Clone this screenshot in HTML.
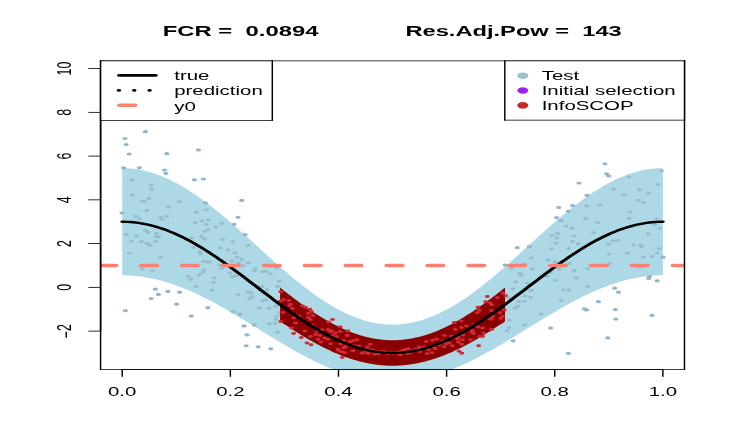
<!DOCTYPE html>
<html><head><meta charset="utf-8"><title>plot</title>
<style>html,body{margin:0;padding:0;background:#fff;overflow:hidden}svg{display:block}#w{width:736px;height:445px;will-change:transform}text{font-family:"Liberation Sans",sans-serif;fill:#000;white-space:pre}</style></head><body><div id="w">
<svg width="736" height="445" viewBox="0 0 432 432" preserveAspectRatio="none">
<rect x="0" y="0" width="432" height="432" fill="#fff"/>
<defs><clipPath id="pc"><rect x="59.04" y="59.04" width="342.72" height="299.52"/></clipPath></defs>
<g clip-path="url(#pc)">
<path d="M71.73 163.22 L73.32 163.26 L74.91 163.37 L76.49 163.56 L78.08 163.82 L79.67 164.15 L81.25 164.56 L82.84 165.05 L84.43 165.60 L86.01 166.23 L87.60 166.94 L89.19 167.71 L90.77 168.55 L92.36 169.46 L93.95 170.44 L95.53 171.49 L97.12 172.61 L98.71 173.79 L100.29 175.04 L101.88 176.35 L103.47 177.72 L105.05 179.15 L106.64 180.64 L108.23 182.19 L109.81 183.80 L111.40 185.46 L112.99 187.17 L114.57 188.93 L116.16 190.75 L117.75 192.61 L119.33 194.51 L120.92 196.47 L122.51 198.46 L124.09 200.49 L125.68 202.56 L127.27 204.67 L128.85 206.81 L130.44 208.99 L132.03 211.19 L133.61 213.42 L135.20 215.68 L136.79 217.96 L138.37 220.26 L139.96 222.58 L141.55 224.91 L143.13 227.26 L144.72 229.62 L146.31 231.99 L147.89 234.37 L149.48 236.75 L151.07 239.14 L152.65 241.52 L154.24 243.91 L155.83 246.28 L157.41 248.65 L159.00 251.01 L160.59 253.36 L162.17 255.70 L163.76 258.02 L165.35 260.32 L166.93 262.60 L168.52 264.85 L170.11 267.09 L171.69 269.29 L173.28 271.46 L174.87 273.60 L176.45 275.71 L178.04 277.78 L179.63 279.82 L181.21 281.81 L182.80 283.76 L184.39 285.67 L185.97 287.53 L187.56 289.34 L189.15 291.11 L190.73 292.82 L192.32 294.48 L193.91 296.09 L195.49 297.63 L197.08 299.13 L198.67 300.56 L200.25 301.93 L201.84 303.24 L203.43 304.48 L205.01 305.67 L206.60 306.78 L208.19 307.83 L209.77 308.81 L211.36 309.73 L212.95 310.57 L214.53 311.34 L216.12 312.04 L217.71 312.67 L219.29 313.23 L220.88 313.71 L222.47 314.12 L224.05 314.46 L225.64 314.72 L227.23 314.91 L228.81 315.02 L230.40 315.06 L231.99 315.02 L233.57 314.91 L235.16 314.72 L236.75 314.46 L238.33 314.12 L239.92 313.71 L241.51 313.23 L243.09 312.67 L244.68 312.04 L246.27 311.34 L247.85 310.57 L249.44 309.73 L251.03 308.81 L252.61 307.83 L254.20 306.78 L255.79 305.67 L257.37 304.48 L258.96 303.24 L260.55 301.93 L262.13 300.56 L263.72 299.13 L265.31 297.63 L266.89 296.09 L268.48 294.48 L270.07 292.82 L271.65 291.11 L273.24 289.34 L274.83 287.53 L276.41 285.67 L278.00 283.76 L279.59 281.81 L281.17 279.82 L282.76 277.78 L284.35 275.71 L285.93 273.60 L287.52 271.46 L289.11 269.29 L290.69 267.09 L292.28 264.85 L293.87 262.60 L295.45 260.32 L297.04 258.02 L298.63 255.70 L300.21 253.36 L301.80 251.01 L303.39 248.65 L304.97 246.28 L306.56 243.91 L308.15 241.52 L309.73 239.14 L311.32 236.75 L312.91 234.37 L314.49 231.99 L316.08 229.62 L317.67 227.26 L319.25 224.91 L320.84 222.58 L322.43 220.26 L324.01 217.96 L325.60 215.68 L327.19 213.42 L328.77 211.19 L330.36 208.99 L331.95 206.81 L333.53 204.67 L335.12 202.56 L336.71 200.49 L338.29 198.46 L339.88 196.47 L341.47 194.51 L343.05 192.61 L344.64 190.75 L346.23 188.93 L347.81 187.17 L349.40 185.46 L350.99 183.80 L352.57 182.19 L354.16 180.64 L355.75 179.15 L357.33 177.72 L358.92 176.35 L360.51 175.04 L362.09 173.79 L363.68 172.61 L365.27 171.49 L366.85 170.44 L368.44 169.46 L370.03 168.55 L371.61 167.71 L373.20 166.94 L374.79 166.23 L376.37 165.60 L377.96 165.05 L379.55 164.56 L381.13 164.15 L382.72 163.82 L384.31 163.56 L385.89 163.37 L387.48 163.26 L389.07 163.22 L389.07 267.28 L387.48 267.30 L385.89 267.38 L384.31 267.50 L382.72 267.68 L381.13 267.91 L379.55 268.19 L377.96 268.52 L376.37 268.89 L374.79 269.32 L373.20 269.80 L371.61 270.32 L370.03 270.89 L368.44 271.51 L366.85 272.18 L365.27 272.89 L363.68 273.65 L362.09 274.45 L360.51 275.29 L358.92 276.18 L357.33 277.11 L355.75 278.08 L354.16 279.09 L352.57 280.14 L350.99 281.23 L349.40 282.36 L347.81 283.52 L346.23 284.72 L344.64 285.95 L343.05 287.21 L341.47 288.50 L339.88 289.83 L338.29 291.18 L336.71 292.56 L335.12 293.96 L333.53 295.39 L331.95 296.85 L330.36 298.32 L328.77 299.82 L327.19 301.33 L325.60 302.86 L324.01 304.41 L322.43 305.97 L320.84 307.54 L319.25 309.12 L317.67 310.72 L316.08 312.32 L314.49 313.93 L312.91 315.54 L311.32 317.16 L309.73 318.77 L308.15 320.39 L306.56 322.01 L304.97 323.62 L303.39 325.23 L301.80 326.83 L300.21 328.42 L298.63 330.01 L297.04 331.58 L295.45 333.14 L293.87 334.69 L292.28 336.22 L290.69 337.73 L289.11 339.22 L287.52 340.70 L285.93 342.15 L284.35 343.58 L282.76 344.99 L281.17 346.37 L279.59 347.72 L278.00 349.04 L276.41 350.34 L274.83 351.60 L273.24 352.83 L271.65 354.03 L270.07 355.19 L268.48 356.31 L266.89 357.40 L265.31 358.45 L263.72 359.46 L262.13 360.44 L260.55 361.37 L258.96 362.25 L257.37 363.10 L255.79 363.90 L254.20 364.66 L252.61 365.37 L251.03 366.03 L249.44 366.65 L247.85 367.23 L246.27 367.75 L244.68 368.23 L243.09 368.65 L241.51 369.03 L239.92 369.36 L238.33 369.64 L236.75 369.86 L235.16 370.04 L233.57 370.17 L231.99 370.24 L230.40 370.27 L228.81 370.24 L227.23 370.17 L225.64 370.04 L224.05 369.86 L222.47 369.64 L220.88 369.36 L219.29 369.03 L217.71 368.65 L216.12 368.23 L214.53 367.75 L212.95 367.23 L211.36 366.65 L209.77 366.03 L208.19 365.37 L206.60 364.66 L205.01 363.90 L203.43 363.10 L201.84 362.25 L200.25 361.37 L198.67 360.44 L197.08 359.46 L195.49 358.45 L193.91 357.40 L192.32 356.31 L190.73 355.19 L189.15 354.03 L187.56 352.83 L185.97 351.60 L184.39 350.34 L182.80 349.04 L181.21 347.72 L179.63 346.37 L178.04 344.99 L176.45 343.58 L174.87 342.15 L173.28 340.70 L171.69 339.22 L170.11 337.73 L168.52 336.22 L166.93 334.69 L165.35 333.14 L163.76 331.58 L162.17 330.01 L160.59 328.42 L159.00 326.83 L157.41 325.23 L155.83 323.62 L154.24 322.01 L152.65 320.39 L151.07 318.77 L149.48 317.16 L147.89 315.54 L146.31 313.93 L144.72 312.32 L143.13 310.72 L141.55 309.12 L139.96 307.54 L138.37 305.97 L136.79 304.41 L135.20 302.86 L133.61 301.33 L132.03 299.82 L130.44 298.32 L128.85 296.85 L127.27 295.39 L125.68 293.96 L124.09 292.56 L122.51 291.18 L120.92 289.83 L119.33 288.50 L117.75 287.21 L116.16 285.95 L114.57 284.72 L112.99 283.52 L111.40 282.36 L109.81 281.23 L108.23 280.14 L106.64 279.09 L105.05 278.08 L103.47 277.11 L101.88 276.18 L100.29 275.29 L98.71 274.45 L97.12 273.65 L95.53 272.89 L93.95 272.18 L92.36 271.51 L90.77 270.89 L89.19 270.32 L87.60 269.80 L86.01 269.32 L84.43 268.89 L82.84 268.52 L81.25 268.19 L79.67 267.91 L78.08 267.68 L76.49 267.50 L74.91 267.38 L73.32 267.30 L71.73 267.28Z" fill="#ADD8E6"/>
<g>
<circle cx="85.34" cy="127.85" r="1.55" fill="#92B5CE"/>
<circle cx="73.37" cy="134.45" r="1.55" fill="#92B5CE"/>
<circle cx="74.02" cy="140.28" r="1.55" fill="#92B5CE"/>
<circle cx="75.78" cy="149.50" r="1.55" fill="#92B5CE"/>
<circle cx="97.90" cy="149.21" r="1.55" fill="#92B5CE"/>
<circle cx="116.45" cy="145.52" r="1.55" fill="#92B5CE"/>
<circle cx="72.55" cy="162.90" r="1.55" fill="#92B5CE"/>
<circle cx="81.82" cy="162.90" r="1.55" fill="#92B5CE"/>
<circle cx="96.50" cy="165.03" r="1.55" fill="#92B5CE"/>
<circle cx="97.43" cy="168.24" r="1.55" fill="#92B5CE"/>
<circle cx="114.05" cy="174.55" r="1.55" fill="#92B5CE"/>
<circle cx="119.33" cy="173.77" r="1.55" fill="#92B5CE"/>
<circle cx="141.81" cy="194.55" r="1.55" fill="#92B5CE"/>
<circle cx="139.70" cy="210.95" r="1.55" fill="#92B5CE"/>
<circle cx="137.35" cy="217.75" r="1.55" fill="#92B5CE"/>
<circle cx="143.86" cy="227.84" r="1.55" fill="#92B5CE"/>
<circle cx="120.56" cy="196.97" r="1.55" fill="#92B5CE"/>
<circle cx="71.61" cy="206.78" r="1.55" fill="#92B5CE"/>
<circle cx="73.55" cy="301.62" r="1.55" fill="#92B5CE"/>
<circle cx="91.21" cy="280.75" r="1.55" fill="#92B5CE"/>
<circle cx="92.97" cy="285.80" r="1.55" fill="#92B5CE"/>
<circle cx="88.69" cy="289.78" r="1.55" fill="#92B5CE"/>
<circle cx="98.55" cy="282.89" r="1.55" fill="#92B5CE"/>
<circle cx="105.42" cy="283.66" r="1.55" fill="#92B5CE"/>
<circle cx="103.66" cy="295.31" r="1.55" fill="#92B5CE"/>
<circle cx="112.28" cy="306.87" r="1.55" fill="#92B5CE"/>
<circle cx="122.03" cy="298.71" r="1.55" fill="#92B5CE"/>
<circle cx="143.22" cy="316.38" r="1.55" fill="#92B5CE"/>
<circle cx="144.98" cy="325.12" r="1.55" fill="#92B5CE"/>
<circle cx="144.51" cy="335.70" r="1.55" fill="#92B5CE"/>
<circle cx="151.55" cy="336.67" r="1.55" fill="#92B5CE"/>
<circle cx="158.89" cy="338.61" r="1.55" fill="#92B5CE"/>
<circle cx="149.26" cy="315.60" r="1.55" fill="#92B5CE"/>
<circle cx="136.88" cy="302.40" r="1.55" fill="#92B5CE"/>
<circle cx="140.69" cy="305.02" r="1.55" fill="#92B5CE"/>
<circle cx="355.05" cy="158.97" r="1.55" fill="#92B5CE"/>
<circle cx="356.05" cy="168.72" r="1.55" fill="#92B5CE"/>
<circle cx="357.34" cy="170.86" r="1.55" fill="#92B5CE"/>
<circle cx="339.79" cy="177.65" r="1.55" fill="#92B5CE"/>
<circle cx="344.54" cy="189.59" r="1.55" fill="#92B5CE"/>
<circle cx="327.96" cy="201.44" r="1.55" fill="#92B5CE"/>
<circle cx="336.09" cy="199.59" r="1.55" fill="#92B5CE"/>
<circle cx="333.57" cy="205.13" r="1.55" fill="#92B5CE"/>
<circle cx="326.70" cy="211.24" r="1.55" fill="#92B5CE"/>
<circle cx="329.40" cy="214.06" r="1.55" fill="#92B5CE"/>
<circle cx="303.57" cy="240.46" r="1.55" fill="#92B5CE"/>
<circle cx="296.53" cy="257.31" r="1.55" fill="#92B5CE"/>
<circle cx="310.73" cy="239.59" r="1.55" fill="#92B5CE"/>
<circle cx="389.21" cy="249.69" r="1.55" fill="#92B5CE"/>
<circle cx="380.76" cy="270.27" r="1.55" fill="#92B5CE"/>
<circle cx="385.69" cy="272.60" r="1.55" fill="#92B5CE"/>
<circle cx="381.23" cy="268.62" r="1.55" fill="#92B5CE"/>
<circle cx="360.80" cy="279.78" r="1.55" fill="#92B5CE"/>
<circle cx="363.03" cy="283.66" r="1.55" fill="#92B5CE"/>
<circle cx="351.23" cy="292.89" r="1.55" fill="#92B5CE"/>
<circle cx="342.96" cy="299.78" r="1.55" fill="#92B5CE"/>
<circle cx="344.25" cy="300.85" r="1.55" fill="#92B5CE"/>
<circle cx="361.15" cy="300.56" r="1.55" fill="#92B5CE"/>
<circle cx="361.45" cy="309.78" r="1.55" fill="#92B5CE"/>
<circle cx="382.70" cy="306.09" r="1.55" fill="#92B5CE"/>
<circle cx="323.18" cy="318.52" r="1.55" fill="#92B5CE"/>
<circle cx="356.69" cy="328.03" r="1.55" fill="#92B5CE"/>
<circle cx="301.17" cy="330.94" r="1.55" fill="#92B5CE"/>
<circle cx="333.63" cy="343.08" r="1.55" fill="#92B5CE"/>
<circle cx="77.54" cy="174.74" r="1.45" fill="#97BDCB"/>
<circle cx="88.69" cy="179.79" r="1.45" fill="#97BDCB"/>
<circle cx="89.16" cy="183.77" r="1.45" fill="#97BDCB"/>
<circle cx="77.83" cy="189.30" r="1.45" fill="#97BDCB"/>
<circle cx="87.40" cy="192.70" r="1.45" fill="#97BDCB"/>
<circle cx="83.41" cy="195.42" r="1.45" fill="#97BDCB"/>
<circle cx="84.70" cy="195.61" r="1.45" fill="#97BDCB"/>
<circle cx="105.24" cy="195.90" r="1.45" fill="#97BDCB"/>
<circle cx="98.73" cy="200.66" r="1.45" fill="#97BDCB"/>
<circle cx="86.28" cy="204.35" r="1.45" fill="#97BDCB"/>
<circle cx="121.21" cy="203.57" r="1.45" fill="#97BDCB"/>
<circle cx="115.16" cy="206.20" r="1.45" fill="#97BDCB"/>
<circle cx="79.59" cy="209.88" r="1.45" fill="#97BDCB"/>
<circle cx="81.82" cy="212.02" r="1.45" fill="#97BDCB"/>
<circle cx="94.27" cy="210.95" r="1.45" fill="#97BDCB"/>
<circle cx="95.20" cy="213.09" r="1.45" fill="#97BDCB"/>
<circle cx="97.79" cy="210.18" r="1.45" fill="#97BDCB"/>
<circle cx="122.20" cy="213.57" r="1.45" fill="#97BDCB"/>
<circle cx="118.51" cy="214.64" r="1.45" fill="#97BDCB"/>
<circle cx="114.52" cy="216.19" r="1.45" fill="#97BDCB"/>
<circle cx="120.91" cy="218.04" r="1.45" fill="#97BDCB"/>
<circle cx="130.01" cy="216.97" r="1.45" fill="#97BDCB"/>
<circle cx="126.67" cy="220.47" r="1.45" fill="#97BDCB"/>
<circle cx="122.20" cy="223.09" r="1.45" fill="#97BDCB"/>
<circle cx="120.09" cy="224.64" r="1.45" fill="#97BDCB"/>
<circle cx="85.34" cy="223.86" r="1.45" fill="#97BDCB"/>
<circle cx="388.27" cy="166.10" r="1.45" fill="#97BDCB"/>
<circle cx="369.14" cy="171.93" r="1.45" fill="#97BDCB"/>
<circle cx="386.16" cy="179.30" r="1.45" fill="#97BDCB"/>
<circle cx="360.16" cy="183.77" r="1.45" fill="#97BDCB"/>
<circle cx="375.36" cy="184.26" r="1.45" fill="#97BDCB"/>
<circle cx="366.38" cy="189.30" r="1.45" fill="#97BDCB"/>
<circle cx="380.58" cy="187.94" r="1.45" fill="#97BDCB"/>
<circle cx="374.71" cy="194.55" r="1.45" fill="#97BDCB"/>
<circle cx="377.88" cy="196.68" r="1.45" fill="#97BDCB"/>
<circle cx="344.37" cy="200.08" r="1.45" fill="#97BDCB"/>
<circle cx="352.06" cy="199.01" r="1.45" fill="#97BDCB"/>
<circle cx="370.08" cy="205.90" r="1.45" fill="#97BDCB"/>
<circle cx="343.60" cy="212.02" r="1.45" fill="#97BDCB"/>
<circle cx="369.14" cy="212.02" r="1.45" fill="#97BDCB"/>
<circle cx="350.77" cy="215.90" r="1.45" fill="#97BDCB"/>
<circle cx="385.69" cy="212.51" r="1.45" fill="#97BDCB"/>
<circle cx="332.28" cy="219.64" r="1.45" fill="#97BDCB"/>
<circle cx="335.80" cy="221.73" r="1.45" fill="#97BDCB"/>
<circle cx="387.27" cy="221.53" r="1.45" fill="#97BDCB"/>
<circle cx="384.46" cy="218.04" r="1.45" fill="#97BDCB"/>
<circle cx="74.43" cy="227.55" r="1.45" fill="#97BDCB"/>
<circle cx="80.18" cy="229.11" r="1.45" fill="#97BDCB"/>
<circle cx="87.05" cy="225.61" r="1.45" fill="#97BDCB"/>
<circle cx="91.80" cy="226.78" r="1.45" fill="#97BDCB"/>
<circle cx="91.62" cy="230.17" r="1.45" fill="#97BDCB"/>
<circle cx="93.38" cy="230.17" r="1.45" fill="#97BDCB"/>
<circle cx="77.01" cy="234.15" r="1.45" fill="#97BDCB"/>
<circle cx="82.94" cy="234.74" r="1.45" fill="#97BDCB"/>
<circle cx="91.27" cy="234.35" r="1.45" fill="#97BDCB"/>
<circle cx="86.28" cy="236.39" r="1.45" fill="#97BDCB"/>
<circle cx="88.10" cy="238.33" r="1.45" fill="#97BDCB"/>
<circle cx="76.01" cy="245.80" r="1.45" fill="#97BDCB"/>
<circle cx="94.21" cy="249.69" r="1.45" fill="#97BDCB"/>
<circle cx="83.35" cy="260.85" r="1.45" fill="#97BDCB"/>
<circle cx="89.57" cy="263.18" r="1.45" fill="#97BDCB"/>
<circle cx="112.64" cy="231.14" r="1.45" fill="#97BDCB"/>
<circle cx="118.10" cy="229.49" r="1.45" fill="#97BDCB"/>
<circle cx="119.92" cy="231.73" r="1.45" fill="#97BDCB"/>
<circle cx="113.58" cy="240.56" r="1.45" fill="#97BDCB"/>
<circle cx="116.98" cy="244.54" r="1.45" fill="#97BDCB"/>
<circle cx="117.68" cy="246.58" r="1.45" fill="#97BDCB"/>
<circle cx="119.50" cy="253.76" r="1.45" fill="#97BDCB"/>
<circle cx="119.92" cy="262.21" r="1.45" fill="#97BDCB"/>
<circle cx="119.09" cy="264.25" r="1.45" fill="#97BDCB"/>
<circle cx="116.98" cy="267.06" r="1.45" fill="#97BDCB"/>
<circle cx="110.58" cy="268.42" r="1.45" fill="#97BDCB"/>
<circle cx="111.99" cy="271.24" r="1.45" fill="#97BDCB"/>
<circle cx="115.16" cy="278.23" r="1.45" fill="#97BDCB"/>
<circle cx="121.85" cy="254.25" r="1.45" fill="#97BDCB"/>
<circle cx="120.15" cy="232.02" r="1.45" fill="#97BDCB"/>
<circle cx="130.66" cy="232.41" r="1.45" fill="#97BDCB"/>
<circle cx="136.76" cy="234.74" r="1.45" fill="#97BDCB"/>
<circle cx="145.68" cy="238.33" r="1.45" fill="#97BDCB"/>
<circle cx="129.25" cy="240.66" r="1.45" fill="#97BDCB"/>
<circle cx="133.59" cy="242.60" r="1.45" fill="#97BDCB"/>
<circle cx="137.82" cy="245.51" r="1.45" fill="#97BDCB"/>
<circle cx="139.17" cy="249.78" r="1.45" fill="#97BDCB"/>
<circle cx="141.93" cy="251.82" r="1.45" fill="#97BDCB"/>
<circle cx="136.00" cy="253.38" r="1.45" fill="#97BDCB"/>
<circle cx="123.08" cy="254.25" r="1.45" fill="#97BDCB"/>
<circle cx="139.93" cy="255.32" r="1.45" fill="#97BDCB"/>
<circle cx="145.68" cy="255.32" r="1.45" fill="#97BDCB"/>
<circle cx="128.84" cy="257.26" r="1.45" fill="#97BDCB"/>
<circle cx="142.69" cy="257.94" r="1.45" fill="#97BDCB"/>
<circle cx="130.07" cy="260.85" r="1.45" fill="#97BDCB"/>
<circle cx="149.85" cy="260.85" r="1.45" fill="#97BDCB"/>
<circle cx="149.44" cy="263.18" r="1.45" fill="#97BDCB"/>
<circle cx="154.19" cy="263.86" r="1.45" fill="#97BDCB"/>
<circle cx="156.01" cy="263.57" r="1.45" fill="#97BDCB"/>
<circle cx="134.94" cy="265.12" r="1.45" fill="#97BDCB"/>
<circle cx="158.71" cy="265.80" r="1.45" fill="#97BDCB"/>
<circle cx="138.35" cy="267.74" r="1.45" fill="#97BDCB"/>
<circle cx="136.35" cy="269.00" r="1.45" fill="#97BDCB"/>
<circle cx="125.73" cy="269.68" r="1.45" fill="#97BDCB"/>
<circle cx="125.32" cy="274.25" r="1.45" fill="#97BDCB"/>
<circle cx="163.88" cy="272.99" r="1.45" fill="#97BDCB"/>
<circle cx="162.47" cy="260.27" r="1.45" fill="#97BDCB"/>
<circle cx="162.88" cy="278.23" r="1.45" fill="#97BDCB"/>
<circle cx="153.78" cy="278.23" r="1.45" fill="#97BDCB"/>
<circle cx="124.49" cy="281.72" r="1.45" fill="#97BDCB"/>
<circle cx="139.52" cy="285.90" r="1.45" fill="#97BDCB"/>
<circle cx="145.68" cy="283.76" r="1.45" fill="#97BDCB"/>
<circle cx="147.44" cy="284.54" r="1.45" fill="#97BDCB"/>
<circle cx="148.09" cy="288.13" r="1.45" fill="#97BDCB"/>
<circle cx="146.50" cy="290.07" r="1.45" fill="#97BDCB"/>
<circle cx="156.78" cy="281.53" r="1.45" fill="#97BDCB"/>
<circle cx="156.13" cy="291.33" r="1.45" fill="#97BDCB"/>
<circle cx="153.96" cy="292.01" r="1.45" fill="#97BDCB"/>
<circle cx="152.20" cy="299.20" r="1.45" fill="#97BDCB"/>
<circle cx="157.89" cy="299.49" r="1.45" fill="#97BDCB"/>
<circle cx="161.82" cy="297.25" r="1.45" fill="#97BDCB"/>
<circle cx="137.00" cy="302.50" r="1.45" fill="#97BDCB"/>
<circle cx="140.75" cy="304.73" r="1.45" fill="#97BDCB"/>
<circle cx="164.05" cy="303.37" r="1.45" fill="#97BDCB"/>
<circle cx="162.65" cy="306.77" r="1.45" fill="#97BDCB"/>
<circle cx="161.82" cy="309.97" r="1.45" fill="#97BDCB"/>
<circle cx="158.13" cy="314.24" r="1.45" fill="#97BDCB"/>
<circle cx="161.53" cy="313.86" r="1.45" fill="#97BDCB"/>
<circle cx="149.44" cy="315.60" r="1.45" fill="#97BDCB"/>
<circle cx="162.94" cy="322.79" r="1.45" fill="#97BDCB"/>
<circle cx="323.94" cy="228.52" r="1.45" fill="#97BDCB"/>
<circle cx="327.35" cy="226.78" r="1.45" fill="#97BDCB"/>
<circle cx="326.70" cy="231.14" r="1.45" fill="#97BDCB"/>
<circle cx="336.85" cy="229.40" r="1.45" fill="#97BDCB"/>
<circle cx="336.03" cy="234.35" r="1.45" fill="#97BDCB"/>
<circle cx="326.52" cy="236.10" r="1.45" fill="#97BDCB"/>
<circle cx="339.38" cy="236.97" r="1.45" fill="#97BDCB"/>
<circle cx="310.73" cy="239.40" r="1.45" fill="#97BDCB"/>
<circle cx="323.77" cy="241.53" r="1.45" fill="#97BDCB"/>
<circle cx="333.68" cy="241.14" r="1.45" fill="#97BDCB"/>
<circle cx="311.85" cy="250.46" r="1.45" fill="#97BDCB"/>
<circle cx="321.53" cy="252.70" r="1.45" fill="#97BDCB"/>
<circle cx="325.94" cy="254.25" r="1.45" fill="#97BDCB"/>
<circle cx="307.74" cy="256.58" r="1.45" fill="#97BDCB"/>
<circle cx="334.21" cy="256.00" r="1.45" fill="#97BDCB"/>
<circle cx="300.23" cy="260.56" r="1.45" fill="#97BDCB"/>
<circle cx="312.44" cy="261.24" r="1.45" fill="#97BDCB"/>
<circle cx="328.28" cy="261.24" r="1.45" fill="#97BDCB"/>
<circle cx="336.97" cy="262.79" r="1.45" fill="#97BDCB"/>
<circle cx="344.72" cy="261.24" r="1.45" fill="#97BDCB"/>
<circle cx="305.16" cy="265.51" r="1.45" fill="#97BDCB"/>
<circle cx="306.16" cy="267.35" r="1.45" fill="#97BDCB"/>
<circle cx="323.12" cy="264.44" r="1.45" fill="#97BDCB"/>
<circle cx="321.18" cy="268.42" r="1.45" fill="#97BDCB"/>
<circle cx="338.38" cy="269.98" r="1.45" fill="#97BDCB"/>
<circle cx="325.94" cy="272.31" r="1.45" fill="#97BDCB"/>
<circle cx="302.81" cy="273.86" r="1.45" fill="#97BDCB"/>
<circle cx="309.68" cy="274.93" r="1.45" fill="#97BDCB"/>
<circle cx="300.99" cy="280.46" r="1.45" fill="#97BDCB"/>
<circle cx="330.63" cy="281.24" r="1.45" fill="#97BDCB"/>
<circle cx="333.80" cy="281.72" r="1.45" fill="#97BDCB"/>
<circle cx="344.90" cy="278.23" r="1.45" fill="#97BDCB"/>
<circle cx="312.08" cy="282.11" r="1.45" fill="#97BDCB"/>
<circle cx="348.36" cy="225.90" r="1.45" fill="#97BDCB"/>
<circle cx="380.41" cy="227.16" r="1.45" fill="#97BDCB"/>
<circle cx="359.98" cy="233.77" r="1.45" fill="#97BDCB"/>
<circle cx="362.74" cy="233.38" r="1.45" fill="#97BDCB"/>
<circle cx="357.22" cy="236.97" r="1.45" fill="#97BDCB"/>
<circle cx="371.90" cy="237.94" r="1.45" fill="#97BDCB"/>
<circle cx="376.00" cy="237.65" r="1.45" fill="#97BDCB"/>
<circle cx="376.59" cy="239.40" r="1.45" fill="#97BDCB"/>
<circle cx="386.92" cy="241.53" r="1.45" fill="#97BDCB"/>
<circle cx="357.57" cy="246.77" r="1.45" fill="#97BDCB"/>
<circle cx="368.26" cy="245.90" r="1.45" fill="#97BDCB"/>
<circle cx="385.75" cy="245.51" r="1.45" fill="#97BDCB"/>
<circle cx="377.59" cy="249.69" r="1.45" fill="#97BDCB"/>
<circle cx="382.93" cy="249.01" r="1.45" fill="#97BDCB"/>
<circle cx="357.69" cy="256.38" r="1.45" fill="#97BDCB"/>
<circle cx="375.65" cy="259.49" r="1.45" fill="#97BDCB"/>
<circle cx="311.50" cy="282.50" r="1.45" fill="#97BDCB"/>
<circle cx="308.09" cy="287.45" r="1.45" fill="#97BDCB"/>
<circle cx="311.50" cy="288.71" r="1.45" fill="#97BDCB"/>
<circle cx="298.64" cy="289.00" r="1.45" fill="#97BDCB"/>
<circle cx="304.57" cy="292.69" r="1.45" fill="#97BDCB"/>
<circle cx="307.98" cy="292.40" r="1.45" fill="#97BDCB"/>
<circle cx="329.46" cy="291.62" r="1.45" fill="#97BDCB"/>
<circle cx="303.98" cy="297.25" r="1.45" fill="#97BDCB"/>
<circle cx="302.34" cy="299.20" r="1.45" fill="#97BDCB"/>
<circle cx="317.60" cy="304.83" r="1.45" fill="#97BDCB"/>
<circle cx="299.00" cy="310.94" r="1.45" fill="#97BDCB"/>
<circle cx="307.98" cy="315.60" r="1.45" fill="#97BDCB"/>
<circle cx="298.76" cy="317.93" r="1.45" fill="#97BDCB"/>
<circle cx="297.59" cy="321.43" r="1.45" fill="#97BDCB"/>
</g>
<path d="M164.39 279.16 L165.05 280.03 L165.71 280.90 L166.37 281.77 L167.03 282.63 L167.69 283.48 L168.35 284.34 L169.02 285.19 L169.68 286.03 L170.34 286.87 L171.00 287.71 L171.66 288.54 L172.32 289.37 L172.98 290.19 L173.64 291.01 L174.30 291.82 L174.96 292.63 L175.62 293.43 L176.28 294.23 L176.94 295.02 L177.60 295.81 L178.26 296.59 L178.92 297.36 L179.58 298.13 L180.24 298.89 L180.90 299.64 L181.56 300.39 L182.22 301.13 L182.88 301.86 L183.54 302.59 L184.20 303.31 L184.86 304.02 L185.52 304.73 L186.18 305.43 L186.84 306.12 L187.50 306.80 L188.16 307.48 L188.82 308.14 L189.48 308.80 L190.14 309.45 L190.80 310.10 L191.46 310.73 L192.12 311.36 L192.78 311.97 L193.44 312.58 L194.10 313.18 L194.76 313.77 L195.42 314.35 L196.08 314.93 L196.74 315.49 L197.40 316.04 L198.06 316.59 L198.72 317.12 L199.38 317.65 L200.04 318.17 L200.70 318.67 L201.36 319.17 L202.02 319.66 L202.68 320.13 L203.34 320.60 L204.00 321.06 L204.66 321.50 L205.32 321.94 L205.98 322.36 L206.64 322.78 L207.30 323.18 L207.96 323.58 L208.62 323.96 L209.28 324.33 L209.94 324.70 L210.60 325.05 L211.26 325.39 L211.92 325.72 L212.58 326.03 L213.24 326.34 L213.90 326.64 L214.56 326.92 L215.22 327.19 L215.88 327.46 L216.54 327.71 L217.20 327.95 L217.86 328.17 L218.52 328.39 L219.18 328.60 L219.84 328.79 L220.50 328.97 L221.16 329.14 L221.82 329.30 L222.48 329.45 L223.14 329.58 L223.80 329.71 L224.46 329.82 L225.12 329.92 L225.78 330.01 L226.44 330.08 L227.10 330.15 L227.76 330.20 L228.42 330.24 L229.08 330.27 L229.74 330.29 L230.40 330.30 L231.06 330.29 L231.72 330.27 L232.38 330.24 L233.04 330.20 L233.70 330.15 L234.36 330.08 L235.02 330.01 L235.68 329.92 L236.34 329.82 L237.00 329.71 L237.66 329.58 L238.32 329.45 L238.98 329.30 L239.64 329.14 L240.30 328.97 L240.96 328.79 L241.62 328.60 L242.28 328.39 L242.94 328.17 L243.60 327.95 L244.26 327.71 L244.92 327.46 L245.58 327.19 L246.24 326.92 L246.90 326.64 L247.56 326.34 L248.22 326.03 L248.88 325.72 L249.54 325.39 L250.20 325.05 L250.86 324.70 L251.52 324.33 L252.18 323.96 L252.84 323.58 L253.50 323.18 L254.16 322.78 L254.82 322.36 L255.48 321.94 L256.14 321.50 L256.80 321.06 L257.46 320.60 L258.12 320.13 L258.78 319.66 L259.44 319.17 L260.10 318.67 L260.76 318.17 L261.42 317.65 L262.08 317.12 L262.74 316.59 L263.40 316.04 L264.06 315.49 L264.72 314.93 L265.38 314.35 L266.04 313.77 L266.70 313.18 L267.36 312.58 L268.02 311.97 L268.68 311.36 L269.34 310.73 L270.00 310.10 L270.66 309.45 L271.32 308.80 L271.98 308.14 L272.64 307.48 L273.30 306.80 L273.96 306.12 L274.62 305.43 L275.28 304.73 L275.94 304.02 L276.60 303.31 L277.26 302.59 L277.92 301.86 L278.58 301.13 L279.24 300.39 L279.90 299.64 L280.56 298.89 L281.22 298.13 L281.88 297.36 L282.54 296.59 L283.20 295.81 L283.86 295.02 L284.52 294.23 L285.18 293.43 L285.84 292.63 L286.50 291.82 L287.16 291.01 L287.82 290.19 L288.48 289.37 L289.14 288.54 L289.80 287.71 L290.46 286.87 L291.12 286.03 L291.78 285.19 L292.45 284.34 L293.11 283.48 L293.77 282.63 L294.43 281.77 L295.09 280.90 L295.75 280.03 L296.41 279.16 L296.41 311.98 L295.75 312.72 L295.09 313.45 L294.43 314.18 L293.77 314.90 L293.11 315.62 L292.45 316.34 L291.78 317.06 L291.12 317.77 L290.46 318.48 L289.80 319.18 L289.14 319.88 L288.48 320.58 L287.82 321.27 L287.16 321.96 L286.50 322.64 L285.84 323.32 L285.18 324.00 L284.52 324.67 L283.86 325.34 L283.20 326.00 L282.54 326.65 L281.88 327.30 L281.22 327.95 L280.56 328.59 L279.90 329.22 L279.24 329.85 L278.58 330.48 L277.92 331.10 L277.26 331.71 L276.60 332.31 L275.94 332.91 L275.28 333.51 L274.62 334.10 L273.96 334.68 L273.30 335.25 L272.64 335.82 L271.98 336.38 L271.32 336.94 L270.66 337.48 L270.00 338.03 L269.34 338.56 L268.68 339.09 L268.02 339.61 L267.36 340.12 L266.70 340.62 L266.04 341.12 L265.38 341.61 L264.72 342.09 L264.06 342.57 L263.40 343.03 L262.74 343.49 L262.08 343.94 L261.42 344.39 L260.76 344.82 L260.10 345.25 L259.44 345.66 L258.78 346.07 L258.12 346.48 L257.46 346.87 L256.80 347.25 L256.14 347.63 L255.48 348.00 L254.82 348.35 L254.16 348.70 L253.50 349.04 L252.84 349.38 L252.18 349.70 L251.52 350.01 L250.86 350.32 L250.20 350.61 L249.54 350.90 L248.88 351.18 L248.22 351.44 L247.56 351.70 L246.90 351.95 L246.24 352.19 L245.58 352.42 L244.92 352.64 L244.26 352.85 L243.60 353.05 L242.94 353.24 L242.28 353.43 L241.62 353.60 L240.96 353.76 L240.30 353.92 L239.64 354.06 L238.98 354.19 L238.32 354.32 L237.66 354.43 L237.00 354.53 L236.34 354.63 L235.68 354.71 L235.02 354.79 L234.36 354.85 L233.70 354.91 L233.04 354.95 L232.38 354.99 L231.72 355.01 L231.06 355.03 L230.40 355.03 L229.74 355.03 L229.08 355.01 L228.42 354.99 L227.76 354.95 L227.10 354.91 L226.44 354.85 L225.78 354.79 L225.12 354.71 L224.46 354.63 L223.80 354.53 L223.14 354.43 L222.48 354.32 L221.82 354.19 L221.16 354.06 L220.50 353.92 L219.84 353.76 L219.18 353.60 L218.52 353.43 L217.86 353.24 L217.20 353.05 L216.54 352.85 L215.88 352.64 L215.22 352.42 L214.56 352.19 L213.90 351.95 L213.24 351.70 L212.58 351.44 L211.92 351.18 L211.26 350.90 L210.60 350.61 L209.94 350.32 L209.28 350.01 L208.62 349.70 L207.96 349.38 L207.30 349.04 L206.64 348.70 L205.98 348.35 L205.32 348.00 L204.66 347.63 L204.00 347.25 L203.34 346.87 L202.68 346.48 L202.02 346.07 L201.36 345.66 L200.70 345.25 L200.04 344.82 L199.38 344.39 L198.72 343.94 L198.06 343.49 L197.40 343.03 L196.74 342.57 L196.08 342.09 L195.42 341.61 L194.76 341.12 L194.10 340.62 L193.44 340.12 L192.78 339.61 L192.12 339.09 L191.46 338.56 L190.80 338.03 L190.14 337.48 L189.48 336.94 L188.82 336.38 L188.16 335.82 L187.50 335.25 L186.84 334.68 L186.18 334.10 L185.52 333.51 L184.86 332.91 L184.20 332.31 L183.54 331.71 L182.88 331.10 L182.22 330.48 L181.56 329.85 L180.90 329.22 L180.24 328.59 L179.58 327.95 L178.92 327.30 L178.26 326.65 L177.60 326.00 L176.94 325.34 L176.28 324.67 L175.62 324.00 L174.96 323.32 L174.30 322.64 L173.64 321.96 L172.98 321.27 L172.32 320.58 L171.66 319.88 L171.00 319.18 L170.34 318.48 L169.68 317.77 L169.02 317.06 L168.35 316.34 L167.69 315.62 L167.03 314.90 L166.37 314.18 L165.71 313.45 L165.05 312.72 L164.39 311.98Z" fill="#8B0000"/>
<g>
<circle cx="164.76" cy="283.18" r="1.45" fill="#CD2B35"/>
<circle cx="166.40" cy="291.04" r="1.45" fill="#CD2B35"/>
<circle cx="164.52" cy="292.40" r="1.45" fill="#CD2B35"/>
<circle cx="169.51" cy="291.82" r="1.45" fill="#CD2B35"/>
<circle cx="170.45" cy="295.41" r="1.45" fill="#CD2B35"/>
<circle cx="166.17" cy="303.27" r="1.45" fill="#CD2B35"/>
<circle cx="164.76" cy="312.11" r="1.45" fill="#CD2B35"/>
<circle cx="177.44" cy="296.96" r="1.45" fill="#CD2B35"/>
<circle cx="179.20" cy="298.32" r="1.45" fill="#CD2B35"/>
<circle cx="181.84" cy="300.26" r="1.45" fill="#CD2B35"/>
<circle cx="182.78" cy="302.30" r="1.45" fill="#CD2B35"/>
<circle cx="181.02" cy="304.24" r="1.45" fill="#CD2B35"/>
<circle cx="183.72" cy="306.19" r="1.45" fill="#CD2B35"/>
<circle cx="175.68" cy="306.77" r="1.45" fill="#CD2B35"/>
<circle cx="181.02" cy="308.13" r="1.45" fill="#CD2B35"/>
<circle cx="182.19" cy="310.07" r="1.45" fill="#CD2B35"/>
<circle cx="173.50" cy="313.47" r="1.45" fill="#CD2B35"/>
<circle cx="171.16" cy="318.52" r="1.45" fill="#CD2B35"/>
<circle cx="172.33" cy="323.85" r="1.45" fill="#CD2B35"/>
<circle cx="178.96" cy="321.33" r="1.45" fill="#CD2B35"/>
<circle cx="176.85" cy="327.74" r="1.45" fill="#CD2B35"/>
<circle cx="180.20" cy="333.08" r="1.45" fill="#CD2B35"/>
<circle cx="182.54" cy="334.63" r="1.45" fill="#CD2B35"/>
<circle cx="195.22" cy="310.07" r="1.45" fill="#CD2B35"/>
<circle cx="192.87" cy="312.69" r="1.45" fill="#CD2B35"/>
<circle cx="199.62" cy="317.35" r="1.45" fill="#CD2B35"/>
<circle cx="192.52" cy="319.97" r="1.45" fill="#CD2B35"/>
<circle cx="194.05" cy="321.91" r="1.45" fill="#CD2B35"/>
<circle cx="186.12" cy="321.91" r="1.45" fill="#CD2B35"/>
<circle cx="199.62" cy="321.91" r="1.45" fill="#CD2B35"/>
<circle cx="204.14" cy="321.33" r="1.45" fill="#CD2B35"/>
<circle cx="196.81" cy="323.27" r="1.45" fill="#CD2B35"/>
<circle cx="185.18" cy="324.83" r="1.45" fill="#CD2B35"/>
<circle cx="182.19" cy="326.77" r="1.45" fill="#CD2B35"/>
<circle cx="187.77" cy="325.80" r="1.45" fill="#CD2B35"/>
<circle cx="203.79" cy="325.80" r="1.45" fill="#CD2B35"/>
<circle cx="197.63" cy="326.77" r="1.45" fill="#CD2B35"/>
<circle cx="186.59" cy="329.39" r="1.45" fill="#CD2B35"/>
<circle cx="190.53" cy="328.22" r="1.45" fill="#CD2B35"/>
<circle cx="192.52" cy="329.39" r="1.45" fill="#CD2B35"/>
<circle cx="209.48" cy="329.78" r="1.45" fill="#CD2B35"/>
<circle cx="207.14" cy="330.75" r="1.45" fill="#CD2B35"/>
<circle cx="201.80" cy="330.75" r="1.45" fill="#CD2B35"/>
<circle cx="205.32" cy="331.72" r="1.45" fill="#CD2B35"/>
<circle cx="194.05" cy="333.66" r="1.45" fill="#CD2B35"/>
<circle cx="199.98" cy="333.66" r="1.45" fill="#CD2B35"/>
<circle cx="203.56" cy="335.02" r="1.45" fill="#CD2B35"/>
<circle cx="207.72" cy="335.60" r="1.45" fill="#CD2B35"/>
<circle cx="201.80" cy="337.64" r="1.45" fill="#CD2B35"/>
<circle cx="198.80" cy="340.16" r="1.45" fill="#CD2B35"/>
<circle cx="200.56" cy="341.52" r="1.45" fill="#CD2B35"/>
<circle cx="207.14" cy="340.55" r="1.45" fill="#CD2B35"/>
<circle cx="202.38" cy="342.49" r="1.45" fill="#CD2B35"/>
<circle cx="212.48" cy="342.88" r="1.45" fill="#CD2B35"/>
<circle cx="200.86" cy="347.06" r="1.45" fill="#CD2B35"/>
<circle cx="295.18" cy="284.54" r="1.45" fill="#CD2B35"/>
<circle cx="296.71" cy="287.16" r="1.45" fill="#CD2B35"/>
<circle cx="286.02" cy="287.94" r="1.45" fill="#CD2B35"/>
<circle cx="291.95" cy="289.10" r="1.45" fill="#CD2B35"/>
<circle cx="285.08" cy="292.98" r="1.45" fill="#CD2B35"/>
<circle cx="287.67" cy="293.86" r="1.45" fill="#CD2B35"/>
<circle cx="288.61" cy="295.80" r="1.45" fill="#CD2B35"/>
<circle cx="280.57" cy="298.32" r="1.45" fill="#CD2B35"/>
<circle cx="281.27" cy="301.24" r="1.45" fill="#CD2B35"/>
<circle cx="280.10" cy="303.66" r="1.45" fill="#CD2B35"/>
<circle cx="288.61" cy="301.62" r="1.45" fill="#CD2B35"/>
<circle cx="296.00" cy="300.85" r="1.45" fill="#CD2B35"/>
<circle cx="293.60" cy="303.66" r="1.45" fill="#CD2B35"/>
<circle cx="295.18" cy="307.16" r="1.45" fill="#CD2B35"/>
<circle cx="293.95" cy="309.10" r="1.45" fill="#CD2B35"/>
<circle cx="289.25" cy="307.16" r="1.45" fill="#CD2B35"/>
<circle cx="287.20" cy="309.10" r="1.45" fill="#CD2B35"/>
<circle cx="266.65" cy="313.08" r="1.45" fill="#CD2B35"/>
<circle cx="270.82" cy="311.53" r="1.45" fill="#CD2B35"/>
<circle cx="273.82" cy="316.57" r="1.45" fill="#CD2B35"/>
<circle cx="270.82" cy="317.93" r="1.45" fill="#CD2B35"/>
<circle cx="267.24" cy="319.97" r="1.45" fill="#CD2B35"/>
<circle cx="277.92" cy="315.41" r="1.45" fill="#CD2B35"/>
<circle cx="280.57" cy="317.35" r="1.45" fill="#CD2B35"/>
<circle cx="288.61" cy="319.97" r="1.45" fill="#CD2B35"/>
<circle cx="277.34" cy="320.94" r="1.45" fill="#CD2B35"/>
<circle cx="283.91" cy="323.27" r="1.45" fill="#CD2B35"/>
<circle cx="277.92" cy="323.85" r="1.45" fill="#CD2B35"/>
<circle cx="271.76" cy="325.21" r="1.45" fill="#CD2B35"/>
<circle cx="281.50" cy="326.77" r="1.45" fill="#CD2B35"/>
<circle cx="283.27" cy="326.77" r="1.45" fill="#CD2B35"/>
<circle cx="260.73" cy="325.80" r="1.45" fill="#CD2B35"/>
<circle cx="264.89" cy="326.38" r="1.45" fill="#CD2B35"/>
<circle cx="256.32" cy="329.19" r="1.45" fill="#CD2B35"/>
<circle cx="253.98" cy="330.36" r="1.45" fill="#CD2B35"/>
<circle cx="268.47" cy="329.19" r="1.45" fill="#CD2B35"/>
<circle cx="271.41" cy="329.78" r="1.45" fill="#CD2B35"/>
<circle cx="276.16" cy="329.78" r="1.45" fill="#CD2B35"/>
<circle cx="261.31" cy="331.72" r="1.45" fill="#CD2B35"/>
<circle cx="263.72" cy="333.08" r="1.45" fill="#CD2B35"/>
<circle cx="269.06" cy="332.30" r="1.45" fill="#CD2B35"/>
<circle cx="257.79" cy="334.63" r="1.45" fill="#CD2B35"/>
<circle cx="265.48" cy="335.60" r="1.45" fill="#CD2B35"/>
<circle cx="271.06" cy="334.24" r="1.45" fill="#CD2B35"/>
<circle cx="280.92" cy="335.60" r="1.45" fill="#CD2B35"/>
<circle cx="255.38" cy="338.61" r="1.45" fill="#CD2B35"/>
<circle cx="251.57" cy="339.58" r="1.45" fill="#CD2B35"/>
<circle cx="269.41" cy="340.94" r="1.45" fill="#CD2B35"/>
<circle cx="271.06" cy="342.88" r="1.45" fill="#CD2B35"/>
<circle cx="253.62" cy="342.49" r="1.45" fill="#CD2B35"/>
<circle cx="250.63" cy="343.46" r="1.45" fill="#CD2B35"/>
<circle cx="225.28" cy="341.34" r="1.45" fill="#CD2B35"/>
<circle cx="215.71" cy="336.94" r="1.45" fill="#CD2B35"/>
<circle cx="233.35" cy="342.75" r="1.45" fill="#CD2B35"/>
<circle cx="232.27" cy="342.44" r="1.45" fill="#CD2B35"/>
<circle cx="214.37" cy="340.45" r="1.45" fill="#CD2B35"/>
<circle cx="216.40" cy="339.85" r="1.45" fill="#CD2B35"/>
<circle cx="229.11" cy="342.50" r="1.45" fill="#CD2B35"/>
<circle cx="221.45" cy="342.46" r="1.45" fill="#CD2B35"/>
<circle cx="236.84" cy="340.44" r="1.45" fill="#CD2B35"/>
<circle cx="228.05" cy="342.92" r="1.45" fill="#CD2B35"/>
<circle cx="250.12" cy="331.57" r="1.45" fill="#CD2B35"/>
<circle cx="223.97" cy="341.37" r="1.45" fill="#CD2B35"/>
<circle cx="218.44" cy="339.50" r="1.45" fill="#CD2B35"/>
<circle cx="244.02" cy="338.95" r="1.45" fill="#CD2B35"/>
<circle cx="219.83" cy="343.74" r="1.45" fill="#CD2B35"/>
<circle cx="227.13" cy="343.16" r="1.45" fill="#CD2B35"/>
<circle cx="233.80" cy="342.22" r="1.45" fill="#CD2B35"/>
<circle cx="220.79" cy="341.27" r="1.45" fill="#CD2B35"/>
<circle cx="238.86" cy="343.07" r="1.45" fill="#CD2B35"/>
<circle cx="235.24" cy="341.94" r="1.45" fill="#CD2B35"/>
<circle cx="230.20" cy="342.91" r="1.45" fill="#CD2B35"/>
<circle cx="239.56" cy="338.62" r="1.45" fill="#CD2B35"/>
<circle cx="222.24" cy="343.61" r="1.45" fill="#CD2B35"/>
<circle cx="246.27" cy="341.06" r="1.45" fill="#CD2B35"/>
<circle cx="240.72" cy="342.62" r="1.45" fill="#CD2B35"/>
<circle cx="217.44" cy="334.23" r="1.45" fill="#CD2B35"/>
<circle cx="228.87" cy="342.62" r="1.45" fill="#CD2B35"/>
<circle cx="231.57" cy="342.99" r="1.45" fill="#CD2B35"/>
<circle cx="214.44" cy="341.83" r="1.45" fill="#CD2B35"/>
<circle cx="234.77" cy="344.01" r="1.45" fill="#CD2B35"/>
<circle cx="246.28" cy="341.20" r="1.45" fill="#CD2B35"/>
<circle cx="235.58" cy="340.64" r="1.45" fill="#CD2B35"/>
<circle cx="235.03" cy="344.43" r="1.45" fill="#CD2B35"/>
<circle cx="248.92" cy="336.79" r="1.45" fill="#CD2B35"/>
<circle cx="231.00" cy="342.75" r="1.45" fill="#CD2B35"/>
<circle cx="239.66" cy="342.14" r="1.45" fill="#CD2B35"/>
<circle cx="237.59" cy="339.27" r="1.45" fill="#CD2B35"/>
<circle cx="223.78" cy="342.23" r="1.45" fill="#CD2B35"/>
<circle cx="227.64" cy="342.65" r="1.45" fill="#CD2B35"/>
<circle cx="230.53" cy="342.75" r="1.45" fill="#CD2B35"/>
<circle cx="219.35" cy="340.61" r="1.45" fill="#CD2B35"/>
<circle cx="242.20" cy="340.43" r="1.45" fill="#CD2B35"/>
<circle cx="217.87" cy="340.68" r="1.45" fill="#CD2B35"/>
<circle cx="246.13" cy="336.87" r="1.45" fill="#CD2B35"/>
<circle cx="216.02" cy="343.15" r="1.45" fill="#CD2B35"/>
<circle cx="246.59" cy="338.31" r="1.45" fill="#CD2B35"/>
<circle cx="288.04" cy="309.73" r="1.45" fill="#CD2B35"/>
<circle cx="198.35" cy="338.97" r="1.45" fill="#CD2B35"/>
<circle cx="173.88" cy="307.21" r="1.45" fill="#CD2B35"/>
<circle cx="258.84" cy="333.19" r="1.45" fill="#CD2B35"/>
<circle cx="268.97" cy="327.44" r="1.45" fill="#CD2B35"/>
<circle cx="172.71" cy="308.41" r="1.45" fill="#CD2B35"/>
<circle cx="288.34" cy="309.45" r="1.45" fill="#CD2B35"/>
<circle cx="189.09" cy="320.18" r="1.45" fill="#CD2B35"/>
<circle cx="170.03" cy="296.48" r="1.45" fill="#CD2B35"/>
<circle cx="171.64" cy="299.50" r="1.45" fill="#CD2B35"/>
<circle cx="210.60" cy="335.88" r="1.45" fill="#CD2B35"/>
<circle cx="261.83" cy="333.69" r="1.45" fill="#CD2B35"/>
<circle cx="194.65" cy="321.08" r="1.45" fill="#CD2B35"/>
<circle cx="188.38" cy="332.03" r="1.45" fill="#CD2B35"/>
<circle cx="283.14" cy="318.44" r="1.45" fill="#CD2B35"/>
<circle cx="259.82" cy="331.57" r="1.45" fill="#CD2B35"/>
<circle cx="173.68" cy="306.31" r="1.45" fill="#CD2B35"/>
<circle cx="254.93" cy="337.33" r="1.45" fill="#CD2B35"/>
<circle cx="289.94" cy="302.36" r="1.45" fill="#CD2B35"/>
<circle cx="202.78" cy="336.66" r="1.45" fill="#CD2B35"/>
<circle cx="195.15" cy="325.62" r="1.45" fill="#CD2B35"/>
<circle cx="260.74" cy="336.60" r="1.45" fill="#CD2B35"/>
<circle cx="183.29" cy="315.66" r="1.45" fill="#CD2B35"/>
<circle cx="276.95" cy="322.25" r="1.45" fill="#CD2B35"/>
</g>
<path d="M71.73 215.25 L73.32 215.28 L74.91 215.37 L76.49 215.53 L78.08 215.75 L79.67 216.03 L81.25 216.38 L82.84 216.78 L84.43 217.25 L86.01 217.78 L87.60 218.37 L89.19 219.01 L90.77 219.72 L92.36 220.49 L93.95 221.31 L95.53 222.19 L97.12 223.13 L98.71 224.12 L100.29 225.17 L101.88 226.26 L103.47 227.41 L105.05 228.62 L106.64 229.87 L108.23 231.17 L109.81 232.51 L111.40 233.91 L112.99 235.34 L114.57 236.82 L116.16 238.35 L117.75 239.91 L119.33 241.51 L120.92 243.15 L122.51 244.82 L124.09 246.53 L125.68 248.26 L127.27 250.03 L128.85 251.83 L130.44 253.65 L132.03 255.50 L133.61 257.38 L135.20 259.27 L136.79 261.18 L138.37 263.11 L139.96 265.06 L141.55 267.02 L143.13 268.99 L144.72 270.97 L146.31 272.96 L147.89 274.96 L149.48 276.95 L151.07 278.96 L152.65 280.96 L154.24 282.96 L155.83 284.95 L157.41 286.94 L159.00 288.92 L160.59 290.89 L162.17 292.85 L163.76 294.80 L165.35 296.73 L166.93 298.64 L168.52 300.54 L170.11 302.41 L171.69 304.26 L173.28 306.08 L174.87 307.88 L176.45 309.65 L178.04 311.39 L179.63 313.09 L181.21 314.76 L182.80 316.40 L184.39 318.00 L185.97 319.56 L187.56 321.09 L189.15 322.57 L190.73 324.00 L192.32 325.40 L193.91 326.74 L195.49 328.04 L197.08 329.29 L198.67 330.50 L200.25 331.65 L201.84 332.75 L203.43 333.79 L205.01 334.78 L206.60 335.72 L208.19 336.60 L209.77 337.42 L211.36 338.19 L212.95 338.90 L214.53 339.55 L216.12 340.13 L217.71 340.66 L219.29 341.13 L220.88 341.53 L222.47 341.88 L224.05 342.16 L225.64 342.38 L227.23 342.54 L228.81 342.63 L230.40 342.66 L231.99 342.63 L233.57 342.54 L235.16 342.38 L236.75 342.16 L238.33 341.88 L239.92 341.53 L241.51 341.13 L243.09 340.66 L244.68 340.13 L246.27 339.55 L247.85 338.90 L249.44 338.19 L251.03 337.42 L252.61 336.60 L254.20 335.72 L255.79 334.78 L257.37 333.79 L258.96 332.75 L260.55 331.65 L262.13 330.50 L263.72 329.29 L265.31 328.04 L266.89 326.74 L268.48 325.40 L270.07 324.00 L271.65 322.57 L273.24 321.09 L274.83 319.56 L276.41 318.00 L278.00 316.40 L279.59 314.76 L281.17 313.09 L282.76 311.39 L284.35 309.65 L285.93 307.88 L287.52 306.08 L289.11 304.26 L290.69 302.41 L292.28 300.54 L293.87 298.64 L295.45 296.73 L297.04 294.80 L298.63 292.85 L300.21 290.89 L301.80 288.92 L303.39 286.94 L304.97 284.95 L306.56 282.96 L308.15 280.96 L309.73 278.96 L311.32 276.95 L312.91 274.96 L314.49 272.96 L316.08 270.97 L317.67 268.99 L319.25 267.02 L320.84 265.06 L322.43 263.11 L324.01 261.18 L325.60 259.27 L327.19 257.38 L328.77 255.50 L330.36 253.65 L331.95 251.83 L333.53 250.03 L335.12 248.26 L336.71 246.53 L338.29 244.82 L339.88 243.15 L341.47 241.51 L343.05 239.91 L344.64 238.35 L346.23 236.82 L347.81 235.34 L349.40 233.91 L350.99 232.51 L352.57 231.17 L354.16 229.87 L355.75 228.62 L357.33 227.41 L358.92 226.26 L360.51 225.17 L362.09 224.12 L363.68 223.13 L365.27 222.19 L366.85 221.31 L368.44 220.49 L370.03 219.72 L371.61 219.01 L373.20 218.37 L374.79 217.78 L376.37 217.25 L377.96 216.78 L379.55 216.38 L381.13 216.03 L382.72 215.75 L384.31 215.53 L385.89 215.37 L387.48 215.28 L389.07 215.25" fill="none" stroke="#000" stroke-width="2.3" stroke-linecap="round" stroke-linejoin="round"/>
<line x1="59.19" y1="257.72" x2="406.76" y2="257.72" stroke="#FA8072" stroke-width="3.3" stroke-dasharray="8.7 15.3" stroke-linecap="round"/>
</g>
<line x1="58.62" y1="59.04" x2="402.19" y2="59.04" stroke="#000" stroke-width="0.80"/><line x1="58.62" y1="358.56" x2="402.19" y2="358.56" stroke="#000" stroke-width="0.80"/><line x1="59.04" y1="58.64" x2="59.04" y2="358.96" stroke="#000" stroke-width="0.85"/><line x1="401.76" y1="58.64" x2="401.76" y2="358.96" stroke="#000" stroke-width="0.85"/>
<line x1="71.73" y1="358.56" x2="389.07" y2="358.56" stroke="#000" stroke-width="0.80"/>
<line x1="71.73" y1="358.56" x2="71.73" y2="365.76" stroke="#000" stroke-width="0.85"/>
<line x1="135.20" y1="358.56" x2="135.20" y2="365.76" stroke="#000" stroke-width="0.85"/>
<line x1="198.67" y1="358.56" x2="198.67" y2="365.76" stroke="#000" stroke-width="0.85"/>
<line x1="262.13" y1="358.56" x2="262.13" y2="365.76" stroke="#000" stroke-width="0.85"/>
<line x1="325.60" y1="358.56" x2="325.60" y2="365.76" stroke="#000" stroke-width="0.85"/>
<line x1="389.07" y1="358.56" x2="389.07" y2="365.76" stroke="#000" stroke-width="0.85"/>
<line x1="59.04" y1="321.43" x2="59.04" y2="66.60" stroke="#000" stroke-width="0.85"/>
<line x1="51.84" y1="321.43" x2="59.04" y2="321.43" stroke="#000" stroke-width="0.80"/>
<line x1="51.84" y1="278.96" x2="59.04" y2="278.96" stroke="#000" stroke-width="0.80"/>
<line x1="51.84" y1="236.48" x2="59.04" y2="236.48" stroke="#000" stroke-width="0.80"/>
<line x1="51.84" y1="194.01" x2="59.04" y2="194.01" stroke="#000" stroke-width="0.80"/>
<line x1="51.84" y1="151.54" x2="59.04" y2="151.54" stroke="#000" stroke-width="0.80"/>
<line x1="51.84" y1="109.07" x2="59.04" y2="109.07" stroke="#000" stroke-width="0.80"/>
<line x1="51.84" y1="66.60" x2="59.04" y2="66.60" stroke="#000" stroke-width="0.80"/>
<g font-size="12">
<text x="71.73" y="384.48" text-anchor="middle">0.0</text>
<text x="135.20" y="384.48" text-anchor="middle">0.2</text>
<text x="198.67" y="384.48" text-anchor="middle">0.4</text>
<text x="262.13" y="384.48" text-anchor="middle">0.6</text>
<text x="325.60" y="384.48" text-anchor="middle">0.8</text>
<text x="389.07" y="384.48" text-anchor="middle">1.0</text>
<text transform="translate(41.76 321.43) rotate(-90)" text-anchor="middle"><tspan dy="1.1">−</tspan><tspan dy="-1.1">2</tspan></text>
<text transform="translate(41.76 278.96) rotate(-90)" text-anchor="middle">0</text>
<text transform="translate(41.76 236.48) rotate(-90)" text-anchor="middle">2</text>
<text transform="translate(41.76 194.01) rotate(-90)" text-anchor="middle">4</text>
<text transform="translate(41.76 151.54) rotate(-90)" text-anchor="middle">6</text>
<text transform="translate(41.76 109.07) rotate(-90)" text-anchor="middle">8</text>
<text transform="translate(41.76 66.60) rotate(-90)" text-anchor="middle">10</text>
</g>
<g font-size="14" font-weight="bold">
<text xml:space="preserve" x="95.55" y="34.75">FCR =  0.0894</text>
<text xml:space="preserve" x="238.01" y="34.75" textLength="126.9" lengthAdjust="spacingAndGlyphs">Res.Adj.Pow =  143</text>
</g>
<rect x="59.04" y="59.04" width="100.79" height="57.84" fill="#fff"/><line x1="58.62" y1="59.04" x2="160.25" y2="59.04" stroke="#000" stroke-width="0.80"/><line x1="58.62" y1="116.88" x2="160.25" y2="116.88" stroke="#000" stroke-width="0.80"/><line x1="59.04" y1="58.64" x2="59.04" y2="117.28" stroke="#000" stroke-width="0.85"/><line x1="159.83" y1="58.64" x2="159.83" y2="117.28" stroke="#000" stroke-width="0.85"/>
<line x1="70.07" y1="73.20" x2="91.22" y2="73.20" stroke="#000" stroke-width="2.8" stroke-linecap="round"/>
<line x1="69.80" y1="87.76" x2="91.50" y2="87.76" stroke="#000" stroke-width="2.6" stroke-linecap="round" stroke-dasharray="0 9"/>
<line x1="70.32" y1="102.13" x2="91.50" y2="102.13" stroke="#FA8072" stroke-width="3.3" stroke-linecap="round" stroke-dasharray="8.7 15.3"/>
<g font-size="12">
<text x="102.26" y="77.76">true</text>
<text x="102.26" y="92.61">prediction</text>
<text x="102.26" y="107.47">y0</text>
</g>
<rect x="296.30" y="59.04" width="105.46" height="57.55" fill="#fff"/><line x1="295.87" y1="59.04" x2="402.19" y2="59.04" stroke="#000" stroke-width="0.80"/><line x1="295.87" y1="116.59" x2="402.19" y2="116.59" stroke="#000" stroke-width="0.80"/><line x1="296.30" y1="58.64" x2="296.30" y2="116.99" stroke="#000" stroke-width="0.85"/><line x1="401.76" y1="58.64" x2="401.76" y2="116.99" stroke="#000" stroke-width="0.85"/>
<circle cx="306.86" cy="73.49" r="3.2" fill="#9AC0CD"/>
<circle cx="306.86" cy="87.86" r="3.2" fill="#A020F0"/>
<circle cx="306.86" cy="102.22" r="3.2" fill="#CD2626"/>
<g font-size="12">
<text x="317.95" y="77.37">Test</text>
<text x="317.95" y="92.22">Initial selection</text>
<text x="317.95" y="107.08">InfoSCOP</text>
</g>
</svg></div></body></html>
